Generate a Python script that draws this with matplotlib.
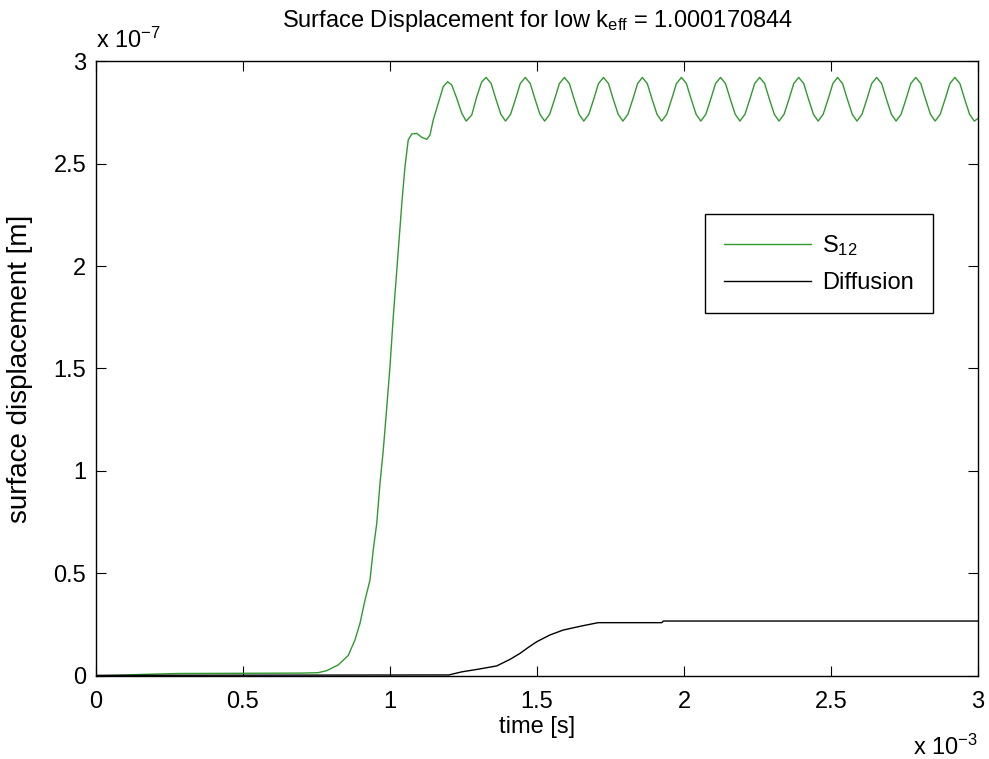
import numpy as np
import matplotlib
matplotlib.use("Agg")
import matplotlib.pyplot as plt
from matplotlib.ticker import FormatStrFormatter

plt.rcParams['font.family'] = ['Liberation Sans', 'DejaVu Sans']
plt.rcParams['mathtext.fontset'] = 'custom'
plt.rcParams['mathtext.rm'] = 'Liberation Sans'
plt.rcParams['mathtext.it'] = 'Liberation Sans'

# time in units of 1e-3 s, displacement in units of 1e-7 m
s12_rise_t = [0.0, 0.17, 0.28, 0.70, 0.756, 0.785, 0.824, 0.858, 0.881, 0.898,
              0.915, 0.932, 0.943, 0.955, 0.966, 0.977, 0.989, 1.000, 1.011, 1.023,
              1.041, 1.051, 1.062, 1.074, 1.091, 1.108, 1.125, 1.136, 1.147, 1.164,
              1.181, 1.196, 1.210, 1.227, 1.244, 1.259, 1.278, 1.295, 1.312]
s12_rise_v = [0.0, 0.008, 0.012, 0.014, 0.016, 0.026, 0.054, 0.10, 0.176, 0.257,
              0.37, 0.468, 0.615, 0.745, 0.94, 1.10, 1.31, 1.51, 1.75, 1.98,
              2.32, 2.485, 2.615, 2.644, 2.647, 2.628, 2.618, 2.639, 2.712, 2.794,
              2.875, 2.899, 2.883, 2.818, 2.745, 2.707, 2.737, 2.826, 2.899]

s12_osc_t = [
    1.327, 1.344, 1.360, 1.377, 1.393, 1.410, 1.427, 1.443,
    1.460, 1.477, 1.493, 1.510, 1.526, 1.543, 1.560, 1.576,
    1.593, 1.610, 1.626, 1.643, 1.659, 1.676, 1.693, 1.709,
    1.726, 1.743, 1.759, 1.776, 1.792, 1.809, 1.826, 1.842,
    1.858, 1.875, 1.891, 1.908, 1.924, 1.941, 1.958, 1.974,
    1.991, 2.008, 2.024, 2.041, 2.057, 2.074, 2.091, 2.107,
    2.124, 2.141, 2.157, 2.174, 2.190, 2.207, 2.224, 2.240,
    2.257, 2.274, 2.290, 2.307, 2.323, 2.340, 2.357, 2.373,
    2.390, 2.407, 2.423, 2.440, 2.456, 2.473, 2.490, 2.506,
    2.522, 2.539, 2.555, 2.572, 2.588, 2.605, 2.622, 2.638,
    2.655, 2.672, 2.688, 2.705, 2.721, 2.738, 2.755, 2.771,
    2.788, 2.805, 2.821, 2.838, 2.854, 2.871, 2.888, 2.904,
    2.921, 2.938, 2.954, 2.971, 2.987, 3.000]
s12_osc_v = [
    2.92, 2.89, 2.815, 2.74, 2.707, 2.74, 2.815, 2.89,
    2.92, 2.89, 2.815, 2.74, 2.707, 2.74, 2.815, 2.89,
    2.92, 2.89, 2.815, 2.74, 2.707, 2.74, 2.815, 2.89,
    2.92, 2.89, 2.815, 2.74, 2.707, 2.74, 2.815, 2.89,
    2.92, 2.89, 2.815, 2.74, 2.707, 2.74, 2.815, 2.89,
    2.92, 2.89, 2.815, 2.74, 2.707, 2.74, 2.815, 2.89,
    2.92, 2.89, 2.815, 2.74, 2.707, 2.74, 2.815, 2.89,
    2.92, 2.89, 2.815, 2.74, 2.707, 2.74, 2.815, 2.89,
    2.92, 2.89, 2.815, 2.74, 2.707, 2.74, 2.815, 2.89,
    2.92, 2.89, 2.815, 2.74, 2.707, 2.74, 2.815, 2.89,
    2.92, 2.89, 2.815, 2.74, 2.707, 2.74, 2.815, 2.89,
    2.92, 2.89, 2.815, 2.74, 2.707, 2.74, 2.815, 2.89,
    2.92, 2.89, 2.815, 2.74, 2.707, 2.72]

diff_t = [0.0, 1.20, 1.244, 1.30, 1.363, 1.408, 1.442, 1.471, 1.499, 1.544,
          1.589, 1.652, 1.708, 1.924, 1.93, 3.0]
diff_v = [0.003, 0.005, 0.02, 0.033, 0.049, 0.081, 0.11, 0.14, 0.167, 0.20,
          0.224, 0.244, 0.26, 0.26, 0.268, 0.268]

s12_t = s12_rise_t + s12_osc_t
s12_v = s12_rise_v + s12_osc_v

FS = 17

fig = plt.figure(figsize=(9.89, 7.59), dpi=100)
ax = fig.add_axes([0.097, 0.1094, 0.892, 0.8102])

ax.plot(s12_t, s12_v, color='#2f9a2f', lw=1.0, label='S$_{12}$')
ax.plot(diff_t, diff_v, color='black', lw=1.0, label='Diffusion')

ax.set_xlim(0, 3)
ax.set_ylim(0, 3)
ax.set_xticks(np.arange(0, 3.01, 0.5))
ax.set_yticks(np.arange(0, 3.01, 0.5))
ax.xaxis.set_major_formatter(FormatStrFormatter('%g'))
ax.yaxis.set_major_formatter(FormatStrFormatter('%g'))
ax.tick_params(direction='in', length=7, width=0.8, top=True, right=True,
               labelsize=FS)
ax.tick_params(axis='x', pad=11)
ax.tick_params(axis='y', pad=7)
for sp in ax.spines.values():
    sp.set_linewidth(1.0)

ax.set_xlabel('time [s]', fontsize=FS)
ax.xaxis.set_label_coords(0.5, -0.065)
ax.set_ylabel('surface displacement [m]', fontsize=20)
ax.yaxis.set_label_coords(-0.0714, 0.5)

ax.text(0.5, 1.0553, r'Surface Displacement for low k$_{\mathrm{eff}}$ = 1.000170844',
        transform=ax.transAxes, fontsize=FS, ha='center', va='baseline')

ax.text(0.0, 1.021, r'x 10$^{-7}$', transform=ax.transAxes, fontsize=FS,
        ha='left', va='baseline')
ax.text(1.0, -0.128, r'x 10$^{-3}$', transform=ax.transAxes, fontsize=FS,
        ha='right', va='baseline')

leg = ax.legend(loc='upper left', bbox_to_anchor=(0.6905, 0.7512),
                borderaxespad=0, fontsize=FS, handlelength=3.7,
                handletextpad=0.45, fancybox=False, framealpha=1,
                edgecolor='black', borderpad=0.8, labelspacing=0.6)
leg.get_frame().set_linewidth(1.0)

fig.savefig('out.png', dpi=100)
